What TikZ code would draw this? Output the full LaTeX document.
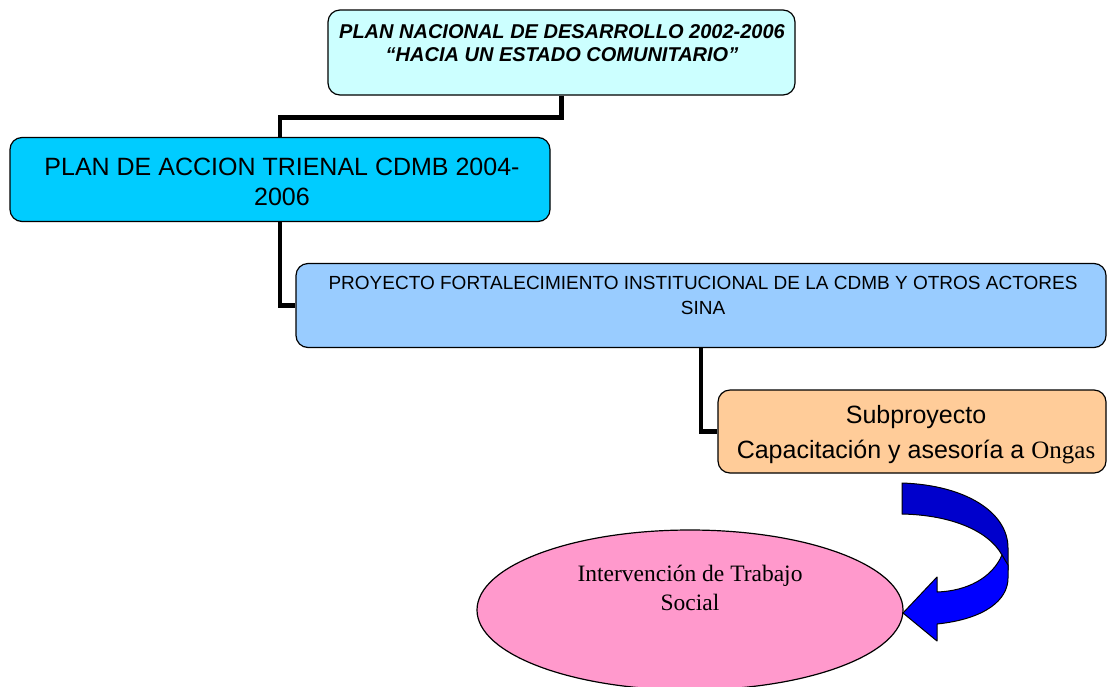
\documentclass[tikz,border=0pt]{standalone}
\usepackage{fontspec}
\setmainfont{Liberation Sans}
\newfontfamily\tnr{Liberation Serif}
\usetikzlibrary{shapes.geometric}
\definecolor{cOne}{HTML}{CCFFFF}
\definecolor{cTwo}{HTML}{00CCFF}
\definecolor{cThree}{HTML}{99CCFF}
\definecolor{cFour}{HTML}{FFCC99}
\definecolor{cPink}{HTML}{FF99CC}
\definecolor{cDark}{HTML}{0000CC}
\definecolor{cBlue}{HTML}{0000FF}
\tikzset{
  box/.style={draw=black, line width=1.2pt, rounded corners=12pt, inner sep=0pt},
  txt/.style={anchor=base, align=center, inner sep=0pt},
  link/.style={draw=black, line width=4.5pt},
  arrowpart/.style={draw=black, line width=1pt, line join=round}
}
\begin{document}
\begin{tikzpicture}[x=1pt, y=-1pt]
\useasboundingbox (0,0) rectangle (1107,686);
% boxes
\node[box, fill=cOne, minimum width=467pt, minimum height=85pt] (b1) at (561.5,52.5) {};
\node[box, fill=cTwo, minimum width=540pt, minimum height=84pt] (b2) at (280,179.5) {};
\node[box, fill=cThree, minimum width=810pt, minimum height=84pt] (b3) at (701,305.5) {};
\node[box, fill=cFour, minimum width=388pt, minimum height=83pt] (b4) at (912,431.5) {};
\node[ellipse, draw=black, line width=1.2pt, fill=cPink, minimum width=426pt, minimum height=160pt, inner sep=0pt] (e) at (690,610) {};
% connectors
\draw[link] (b1.south) -- ++(0,22) -| (b2.north);
\draw[link] (b2.south) |- (b3.west);
\draw[link] (b3.south) |- (b4.west);
% texts (base anchor = baseline of last line)
\node[txt, font=\fontsize{20}{23}\selectfont\bfseries\itshape] (t1) at (562,61) {PLAN NACIONAL DE DESARROLLO 2002-2006\\“HACIA UN ESTADO COMUNITARIO”};
\node[txt, font=\fontsize{25}{30}\selectfont] (t2) at (282,205) {PLAN DE ACCION TRIENAL CDMB 2004-\\2006};
\node[txt, font=\fontsize{19}{25}\selectfont] (t3) at (703,314) {PROYECTO FORTALECIMIENTO INSTITUCIONAL DE LA CDMB Y OTROS ACTORES\\SINA};
\node[txt, font=\fontsize{25}{35}\selectfont] (t4) at (916,458) {Subproyecto\\Capacitación y asesoría a {\tnr Ongas}};
\node[txt, font=\fontsize{23.5}{29}\selectfont\tnr] (t5) at (690,610) {Intervención de Trabajo\\Social};
% curved arrow
\path[arrowpart, fill=cDark] (902,483) .. controls (965,485) and (1008,512) .. (1008,548) -- (1008,570) -- (1002,555) .. controls (988,530) and (950,515) .. (902,514) -- cycle;
\path[arrowpart, fill=cBlue] (1002,555) .. controls (992,578) and (967,591) .. (937,592) -- (937,577) -- (903,613) -- (937,641) -- (937,624) .. controls (985,619) and (1008,600) .. (1008,578) -- (1008,565) -- cycle;
\end{tikzpicture}
\end{document}
